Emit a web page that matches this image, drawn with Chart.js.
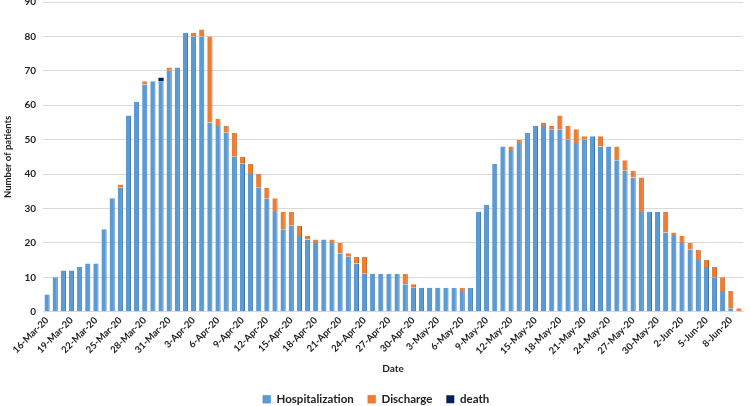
<!DOCTYPE html>
<html><head><meta charset="utf-8">
<script src="https://cdn.jsdelivr.net/npm/chart.js@4.4.1/dist/chart.umd.min.js"></script>
<style>html,body{margin:0;padding:0;background:#fff;overflow:hidden;width:750px;height:406px}#wrap{width:750px;height:426px;margin-top:-11px}</style>
</head><body><div id="wrap"><canvas id="c"></canvas></div>
<script>
const dates = ["16-Mar-20","17-Mar-20","18-Mar-20","19-Mar-20","20-Mar-20","21-Mar-20","22-Mar-20","23-Mar-20","24-Mar-20","25-Mar-20","26-Mar-20","27-Mar-20","28-Mar-20","29-Mar-20","30-Mar-20","31-Mar-20",
"1-Apr-20","2-Apr-20","3-Apr-20","4-Apr-20","5-Apr-20","6-Apr-20","7-Apr-20","8-Apr-20","9-Apr-20","10-Apr-20","11-Apr-20","12-Apr-20","13-Apr-20","14-Apr-20","15-Apr-20","16-Apr-20","17-Apr-20","18-Apr-20","19-Apr-20","20-Apr-20","21-Apr-20","22-Apr-20","23-Apr-20","24-Apr-20","25-Apr-20","26-Apr-20","27-Apr-20","28-Apr-20","29-Apr-20","30-Apr-20",
"1-May-20","2-May-20","3-May-20","4-May-20","5-May-20","6-May-20","7-May-20","8-May-20","9-May-20","10-May-20","11-May-20","12-May-20","13-May-20","14-May-20","15-May-20","16-May-20","17-May-20","18-May-20","19-May-20","20-May-20","21-May-20","22-May-20","23-May-20","24-May-20","25-May-20","26-May-20","27-May-20","28-May-20","29-May-20","30-May-20","31-May-20",
"1-Jun-20","2-Jun-20","3-Jun-20","4-Jun-20","5-Jun-20","6-Jun-20","7-Jun-20","8-Jun-20","9-Jun-20"];
const hospitalization = [5,10,12,12,13,14,14,24,33,36,57,61,66,67,67,70,
71,81,80,80,55,54,52,45,43,40,36,33,29,24,25,22,21,20,21,20,17,16,14,11,11,11,11,11,8,7,
7,7,7,7,7,6,7,29,31,43,48,47,49,52,54,54,53,53,50,49,50,51,48,48,44,41,39,29,29,29,23,
22,20,18,15,13,10,6,1,0];
const discharge = [0,0,0,0,0,0,0,0,0,1,0,0,1,0,0,1,
0,0,1,2,25,2,2,7,2,3,4,3,4,5,4,3,1,1,0,1,3,1,2,5,0,0,0,0,3,1,
0,0,0,0,0,1,0,0,0,0,0,1,1,0,0,1,1,4,4,4,1,0,3,0,4,3,2,10,0,0,6,
1,2,2,3,2,3,4,5,1];
const death = [0,0,0,0,0,0,0,0,0,0,0,0,0,0,1,0,
0,0,0,0,0,0,0,0,0,0,0,0,0,0,0,0,0,0,0,0,0,0,0,0,0,0,0,0,0,0,
0,0,0,0,0,0,0,0,0,0,0,0,0,0,0,0,0,0,0,0,0,0,0,0,0,0,0,0,0,0,0,
0,0,0,0,0,0,0,0,0];
const yTicks = [0,10,20,30,40,50,60,70,80,90];

const FONT = "Lato, 'Open Sans', sans-serif";
const common = {barPercentage:0.64, categoryPercentage:1, borderSkipped:false};
new Chart(document.getElementById('c'), {
  type: 'bar',
  data: {
    labels: dates,
    datasets: [
      Object.assign({label:'Hospitalization', data: hospitalization, backgroundColor:'#5B9BD5', borderColor:'#3F74A8',
        borderWidth:{right:1, top:0, left:0, bottom:0}}, common),
      Object.assign({label:'Discharge', data: discharge, backgroundColor:'#ED7D31', borderColor:'#B85E22',
        borderWidth:{right:1, top:0, left:0, bottom:0}}, common),
      Object.assign({label:'death', data: death, backgroundColor:'#002060', borderWidth:0}, common)
    ]
  },
  options: {
    responsive:true, maintainAspectRatio:false, animation:false,
    layout:{padding:{left:2,right:0,top:0,bottom:0}},
    plugins:{
      legend:{position:'bottom', labels:{boxWidth:8, boxHeight:8, font:{family:FONT, size:11.5, weight:'bold'}, color:'#222', padding:14}},
      tooltip:{enabled:false}
    },
    scales:{
      x:{stacked:true,
        grid:{display:false, drawTicks:false},
        border:{color:'#d9d9d9'},
        ticks:{autoSkip:false, maxRotation:45, minRotation:45, padding:3, color:'#222',
          font:{family:FONT, size:9.5, weight:'bold'},
          callback:function(v,i){ return i%3===0 ? dates[i] : ''; }},
        title:{display:true, text:'Date', color:'#222', font:{family:FONT, size:10, weight:'bold'}, padding:{top:3,bottom:5}}
      },
      y:{stacked:true, min:0, max:90,
        afterBuildTicks:function(s){ s.ticks = yTicks.map(v=>({value:v})); },
        grid:{color:'#d9d9d9', drawTicks:false},
        border:{display:false},
        ticks:{padding:7, color:'#222', font:{family:FONT, size:10, weight:'bold'}},
        title:{display:true, text:'Number of patients', color:'#222', font:{family:FONT, size:9.5, weight:'bold'}, padding:{top:0,bottom:4}}
      }
    }
  }
});
</script></body></html>
